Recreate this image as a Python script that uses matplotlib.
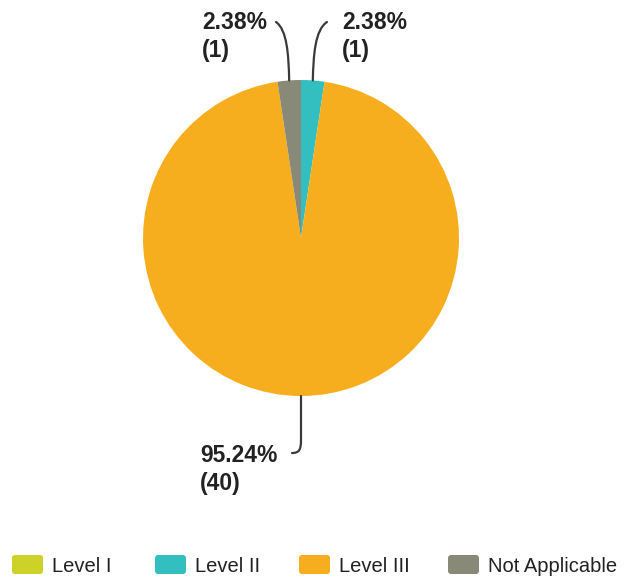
import numpy as np
import matplotlib
matplotlib.use("Agg")
import matplotlib.pyplot as plt
from matplotlib.patches import FancyBboxPatch
from matplotlib.path import Path
from matplotlib.patches import PathPatch

W, H = 628, 580

labels = ["Level I", "Level II", "Level III", "Not Applicable"]
counts = [0, 1, 40, 1]
colors = ["#CDD228", "#33BFBF", "#F6AE1E", "#898977"]

plt.rcParams["font.family"] = ["Liberation Sans", "DejaVu Sans"]

fig = plt.figure(figsize=(W / 100, H / 100), dpi=100)
ax = fig.add_axes([0, 0, 1, 1])


def py(y):
    return H - y


cx, cy, r = 301, 238, 158
wedges, _ = ax.pie(counts, colors=colors, startangle=90, counterclock=False,
                   center=(cx, py(cy)), radius=r, frame=True,
                   wedgeprops=dict(linewidth=0))
ax.set_xlim(0, W)
ax.set_ylim(0, H)
ax.set_aspect("equal")
ax.axis("off")

total = sum(counts)

# label layout per wedge: (bend y, end x, end y, text x, baseline y)
layout = {
    1: (30, 327, 22, 342, 29),
    3: (30, 276, 22, 202, 29),
    2: (450, 292, 453, 200, 462),
}

for i, (by, ex, ey, tx, ty) in layout.items():
    w = wedges[i]
    mid = np.deg2rad((w.theta1 + w.theta2) / 2)
    ax0 = cx + r * np.cos(mid)
    ay0 = cy - r * np.sin(mid)
    lean = (ex - ax0) * 0.15
    verts = [(ax0, py(ay0)),
             (ax0 + lean * 0.3, py((ay0 + by) / 2)),
             (ax0 + lean, py(by)),
             (ex, py(ey))]
    codes = [Path.MOVETO, Path.CURVE4, Path.CURVE4, Path.CURVE4]
    if i == 2:
        verts = [(ax0, py(ay0)), (ax0, py(440)),
                 (ax0, py(450)), (ax0 - 2, py(453)), (ex, py(ey))]
        codes = [Path.MOVETO, Path.LINETO, Path.CURVE4, Path.CURVE4, Path.CURVE4]
    ax.add_patch(PathPatch(Path(verts, codes), fc="none", ec="#3a3a3a",
                           lw=1.6, capstyle="round"))
    pct = counts[i] / total * 100
    ax.text(tx, py(ty), f"{pct:.2f}%", ha="left", va="baseline",
            fontsize=16.5, fontweight="bold", color="#222222")
    ax.text(tx, py(ty + 28), f"({counts[i]})", ha="left", va="baseline",
            fontsize=16.5, fontweight="bold", color="#222222")

# legend
leg_x = [12, 155, 299, 448]
for lx, lab, col in zip(leg_x, labels, colors):
    ax.add_patch(FancyBboxPatch((lx, py(574)), 31, 19,
                                boxstyle="round,pad=0,rounding_size=3",
                                fc=col, ec="none"))
    ax.text(lx + 40, py(565), lab, ha="left", va="center_baseline",
            fontsize=14.5, color="#222222")

fig.savefig("out.png", dpi=100)
